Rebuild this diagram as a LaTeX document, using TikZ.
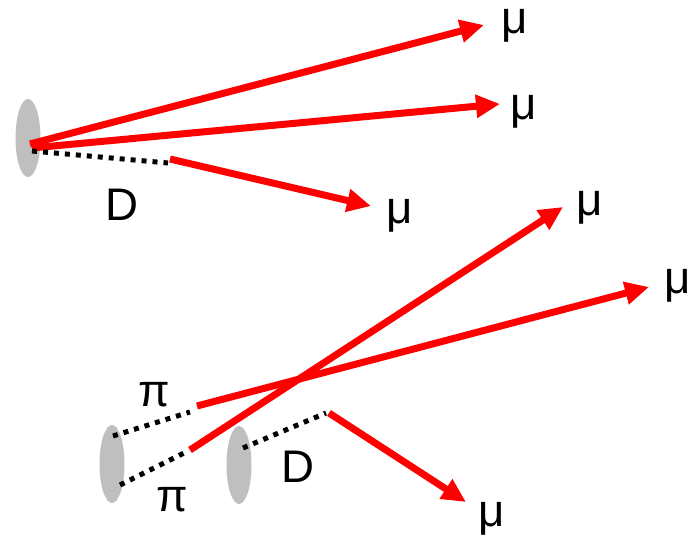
\documentclass[tikz,border=0pt]{standalone}
\usepackage{fontspec}
\setmainfont{Liberation Sans}
\usetikzlibrary{arrows.meta}
\usetikzlibrary{shapes.geometric}

\tikzset{
  vtx/.style={ellipse, fill=black!25, minimum width=0.5cm, minimum height=1.56cm, inner sep=0pt},
  track/.style={red, line width=0.14cm, -{Triangle[length=0.48cm,width=0.44cm]}},
  flight/.style={black, line width=0.1cm, dash pattern=on 0.1cm off 0.12cm},
  lbl/.style={font=\fontsize{26}{30}\selectfont, inner sep=0pt}
}

\begin{document}
\begin{tikzpicture}[x=0.02cm, y=-0.02cm]
      \useasboundingbox (0,0) rectangle (693,536);
      % upper event
      \node[vtx] at (28,138) (pv){};
      \coordinate (pvA) at (30,144);
      \coordinate (pvB) at (32,148);
      \coordinate (pvC) at (32,151);
      \coordinate (dA) at (168,163);
      \coordinate (dB) at (170,159);
      \coordinate (muA) at (484,25);
      \coordinate (muB) at (500,104);
      \coordinate (muC) at (371,206);
      \draw[track] (pvA) -- (muA);
      \draw[track] (pvB) -- (muB);
      \draw[flight] (pvC) -- (dA);
      \draw[track] (dB) -- (muC);
      \node[lbl] at (515,26) (lmuA){μ};
      \node[lbl] at (524,112) (lmuB){μ};
      \node[lbl] at (400,216) (lmuC){μ};
      \node[lbl] at (122,205) (ldA){D};
      % lower event
      \node[vtx] at (112,464) (pvL){};
      \node[vtx] at (239,465) (svL){};
      \coordinate (piA) at (113,436);
      \coordinate (piAe) at (190,412);
      \coordinate (piAs) at (197,406);
      \coordinate (piB) at (120,485);
      \coordinate (piBe) at (188,451);
      \coordinate (piBs) at (190,450);
      \coordinate (dL) at (243,448);
      \coordinate (dLe) at (326,413);
      \coordinate (dLs) at (329,413);
      \coordinate (muD) at (649,287);
      \coordinate (muE) at (563,207);
      \coordinate (muF) at (466,502);
      \draw[flight] (piA) -- (piAe);
      \draw[track] (piAs) -- (muD);
      \draw[flight] (piB) -- (piBe);
      \draw[track] (piBs) -- (muE);
      \draw[flight] (dL) -- (dLe);
      \draw[track] (dLs) -- (muF);
      \node[lbl] at (678,286) (lmuD){μ};
      \node[lbl] at (590,208) (lmuE){μ};
      \node[lbl] at (492,519) (lmuF){μ};
      \node[lbl] at (154,395) (lpiA){π};
      \node[lbl] at (172,500) (lpiB){π};
      \node[lbl] at (298,467) (ldL){D};
    \end{tikzpicture}
\end{document}
